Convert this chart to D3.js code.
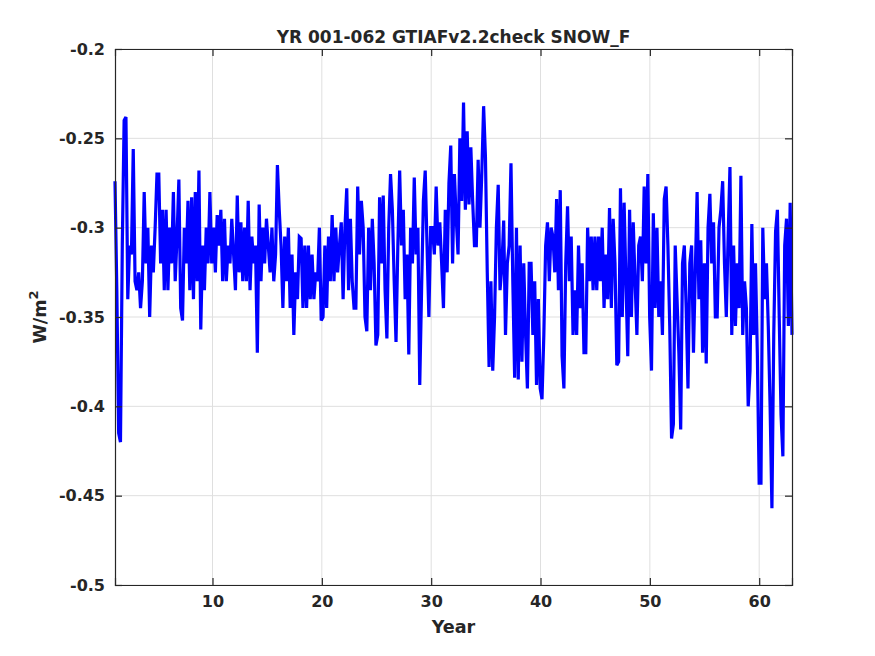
<!DOCTYPE html>
<html>
<head>
<meta charset="utf-8">
<script src="https://cdn.jsdelivr.net/npm/d3@7"></script>
<style>
  body { margin: 0; background: #fff; }
  svg text { font-family: "DejaVu Sans", sans-serif; font-weight: bold; fill: #262626; }
</style>
</head>
<body>
<div id="chart"></div>
<script>
const chartTitle = 'YR 001-062 GTIAFv2.2check SNOW_F';
const xTicks = [10, 20, 30, 40, 50, 60];
const yTicks = [-0.5, -0.45, -0.4, -0.35, -0.3, -0.25, -0.2];
const yTickLabels = ['-0.5', '-0.45', '-0.4', '-0.35', '-0.3', '-0.25', '-0.2'];
const xDomain = [1.083, 63];

// SNOW_F, six readings per model year (years 1..62)
const snowF = [
  -0.274, -0.335, -0.415, -0.42, -0.31, -0.24,
  -0.238, -0.34, -0.31, -0.315, -0.256, -0.33,
  -0.335, -0.325, -0.345, -0.33, -0.28, -0.32,
  -0.30, -0.35, -0.31, -0.325, -0.30, -0.27,
  -0.27, -0.32, -0.29, -0.335, -0.29, -0.335,
  -0.30, -0.32, -0.28, -0.33, -0.305, -0.273,
  -0.345, -0.352, -0.30, -0.32, -0.285, -0.335,
  -0.283, -0.34, -0.28, -0.33, -0.268, -0.357,
  -0.31, -0.335, -0.30, -0.32, -0.28, -0.32,
  -0.30, -0.325, -0.293, -0.31, -0.29, -0.33,
  -0.295, -0.33, -0.31, -0.32, -0.295, -0.315,
  -0.335, -0.282, -0.325, -0.297, -0.33, -0.30,
  -0.33, -0.285, -0.335, -0.305, -0.32, -0.31,
  -0.37, -0.287, -0.33, -0.30, -0.32, -0.295,
  -0.31, -0.325, -0.30, -0.33, -0.315, -0.265,
  -0.29, -0.31, -0.345, -0.305, -0.33, -0.30,
  -0.345, -0.315, -0.36, -0.325, -0.34, -0.305,
  -0.306, -0.345, -0.31, -0.345, -0.31, -0.34,
  -0.315, -0.34, -0.325, -0.33, -0.30, -0.352,
  -0.35, -0.31, -0.345, -0.305, -0.33, -0.293,
  -0.33, -0.30, -0.325, -0.31, -0.297, -0.34,
  -0.30, -0.278, -0.335, -0.295, -0.33, -0.345,
  -0.345, -0.277, -0.315, -0.285, -0.30, -0.35,
  -0.358, -0.30, -0.335, -0.295, -0.32, -0.366,
  -0.36, -0.283, -0.32, -0.282, -0.335, -0.362,
  -0.30, -0.27, -0.29, -0.33, -0.364, -0.31,
  -0.268, -0.31, -0.29, -0.34, -0.315, -0.371,
  -0.30, -0.32, -0.272, -0.315, -0.30, -0.388,
  -0.335, -0.285, -0.268, -0.31, -0.35, -0.30,
  -0.30, -0.315, -0.277, -0.31, -0.297, -0.32,
  -0.345, -0.29, -0.325, -0.275, -0.254, -0.32,
  -0.27, -0.295, -0.315, -0.25, -0.285, -0.23,
  -0.29, -0.246, -0.287, -0.255, -0.285, -0.31,
  -0.31, -0.262, -0.30, -0.27, -0.232, -0.26,
  -0.325, -0.378, -0.33, -0.38, -0.35, -0.30,
  -0.276, -0.335, -0.322, -0.296, -0.36, -0.32,
  -0.31, -0.264, -0.33, -0.384, -0.30, -0.385,
  -0.31, -0.375, -0.32, -0.36, -0.39, -0.32,
  -0.32, -0.36, -0.33, -0.388, -0.34, -0.39,
  -0.396, -0.36, -0.31, -0.297, -0.33, -0.30,
  -0.305, -0.325, -0.284, -0.335, -0.279, -0.372,
  -0.39, -0.32, -0.288, -0.33, -0.305, -0.36,
  -0.335, -0.36, -0.31, -0.345, -0.32, -0.37,
  -0.37, -0.30, -0.33, -0.305, -0.335, -0.305,
  -0.335, -0.305, -0.33, -0.30, -0.345, -0.315,
  -0.34, -0.289, -0.345, -0.295, -0.32, -0.377,
  -0.375, -0.278, -0.35, -0.286, -0.33, -0.372,
  -0.29, -0.35, -0.297, -0.33, -0.36, -0.31,
  -0.305, -0.33, -0.277, -0.32, -0.27, -0.35,
  -0.38, -0.292, -0.345, -0.30, -0.35, -0.33,
  -0.36, -0.284, -0.277, -0.31, -0.355, -0.418,
  -0.41, -0.31, -0.34, -0.37, -0.413, -0.32,
  -0.31, -0.345, -0.39, -0.32, -0.31, -0.37,
  -0.325, -0.28, -0.34, -0.307, -0.37, -0.32,
  -0.376, -0.30, -0.281, -0.32, -0.297, -0.35,
  -0.35, -0.30, -0.29, -0.274, -0.32, -0.35,
  -0.305, -0.266, -0.36, -0.31, -0.355, -0.32,
  -0.345, -0.271, -0.36, -0.33, -0.345, -0.40,
  -0.38, -0.298, -0.36, -0.32, -0.37, -0.443,
  -0.443, -0.30, -0.34, -0.32, -0.355, -0.40,
  -0.457, -0.36, -0.302, -0.29, -0.35, -0.405,
  -0.428, -0.31, -0.295, -0.355, -0.286, -0.36
];

const width = 875, height = 656;
const margin = { top: 49, right: 83, bottom: 71, left: 115 };

const svg = d3.select('#chart').append('svg')
    .attr('width', width)
    .attr('height', height);

const x = d3.scaleLinear().domain(xDomain).range([margin.left, width - margin.right]);
const y = d3.scaleLinear().domain([-0.5, -0.2]).range([height - margin.bottom, margin.top]);

const step = (xDomain[1] - xDomain[0]) / (snowF.length - 1);
const series = snowF.map((v, i) => ({ t: xDomain[0] + i * step, v: v }));

// grid
const grid = svg.append('g').attr('stroke', '#dfdfdf').attr('stroke-width', 1);
grid.selectAll('.gx').data(xTicks).enter().append('line')
    .attr('x1', d => x(d)).attr('x2', d => x(d))
    .attr('y1', margin.top).attr('y2', height - margin.bottom);
grid.selectAll('.gy').data(yTicks).enter().append('line')
    .attr('x1', margin.left).attr('x2', width - margin.right)
    .attr('y1', d => y(d)).attr('y2', d => y(d));

// data line
const line = d3.line().x(d => x(d.t)).y(d => y(d.v));
svg.append('path')
    .attr('d', line(series))
    .attr('fill', 'none')
    .attr('stroke', '#0000ff')
    .attr('stroke-width', 3.2)
    .attr('stroke-linejoin', 'miter');

// axes (box with inward ticks, matlab style)
const xAxis = d3.axisBottom(x).tickValues(xTicks).tickSize(-7).tickPadding(11).tickFormat(d3.format('d'));
const yAxis = d3.axisLeft(y).tickValues(yTicks).tickSize(-7).tickPadding(10)
    .tickFormat((d, i) => yTickLabels[i]);

const gx = svg.append('g').attr('transform', `translate(0,${height - margin.bottom})`).call(xAxis);
const gy = svg.append('g').attr('transform', `translate(${margin.left},0)`).call(yAxis);
const gxTop = svg.append('g').attr('transform', `translate(0,${margin.top})`)
    .call(d3.axisTop(x).tickValues(xTicks).tickSize(-7).tickFormat(''));
const gyRight = svg.append('g').attr('transform', `translate(${width - margin.right},0)`)
    .call(d3.axisRight(y).tickValues(yTicks).tickSize(-7).tickFormat(''));

[gx, gy, gxTop, gyRight].forEach(g => {
    g.select('.domain').attr('stroke', '#262626').attr('stroke-width', 1.2);
    g.selectAll('.tick line').attr('stroke', '#262626').attr('stroke-width', 1.2);
    g.selectAll('.tick text')
        .attr('fill', '#262626')
        .style('font-family', '"DejaVu Sans", sans-serif')
        .style('font-weight', 'bold')
        .style('font-size', '16px');
});

// title and labels
svg.append('text')
    .attr('x', (margin.left + width - margin.right) / 2)
    .attr('y', 43)
    .attr('text-anchor', 'middle')
    .style('font-size', '17px')
    .text(chartTitle);

svg.append('text')
    .attr('x', (margin.left + width - margin.right) / 2)
    .attr('y', 633)
    .attr('text-anchor', 'middle')
    .style('font-size', '17.6px')
    .text('Year');

const yl = svg.append('text')
    .attr('transform', `translate(46,${(margin.top + height - margin.bottom) / 2}) rotate(-90)`)
    .attr('text-anchor', 'middle')
    .style('font-size', '17.6px');
yl.append('tspan').text('W/m');
yl.append('tspan').attr('dy', -8).style('font-size', '13px').text('2');
</script>
</body>
</html>
